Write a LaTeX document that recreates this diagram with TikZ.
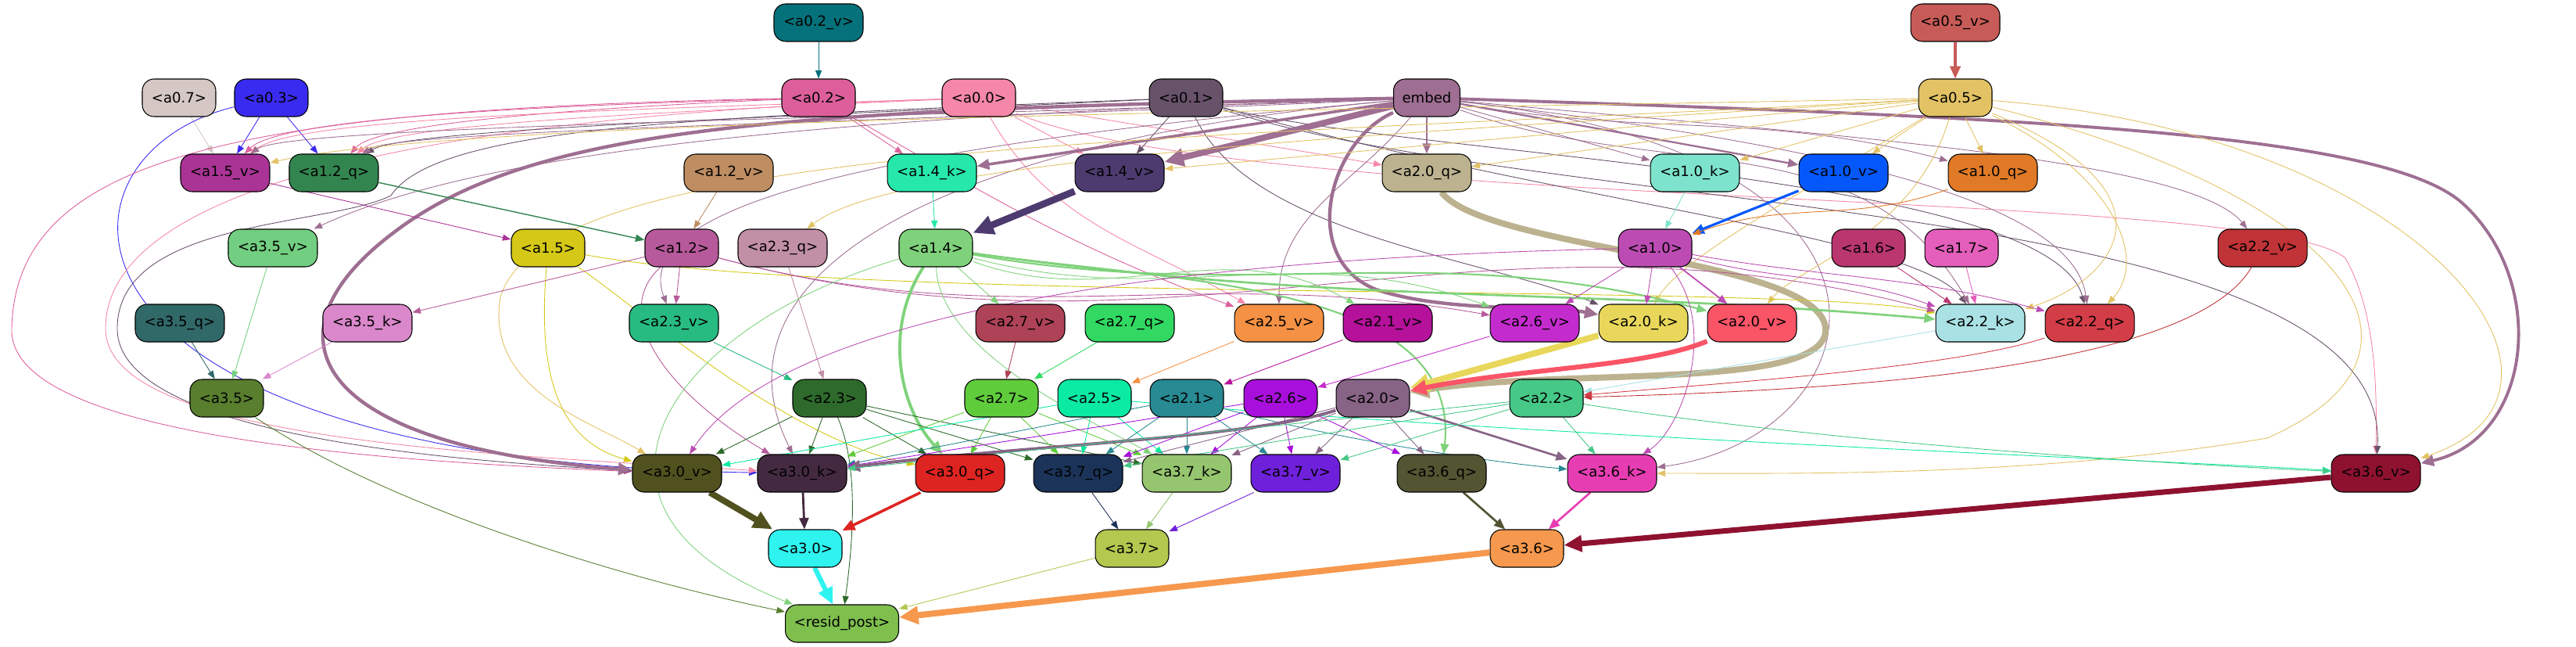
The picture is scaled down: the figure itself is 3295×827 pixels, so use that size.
\documentclass[tikz,border=0pt]{standalone}
\usepackage{fontspec}
\setmainfont{DejaVu Sans}
\usepackage{tikz}
\usetikzlibrary{arrows.meta,backgrounds}
\definecolor{c-a02v}{HTML}{05717A}
\definecolor{c-a05v}{HTML}{C75B57}
\definecolor{c-a07}{HTML}{D5C8C4}
\definecolor{c-a03}{HTML}{3A2BF0}
\definecolor{c-a02}{HTML}{DC5F9B}
\definecolor{c-a00}{HTML}{F587A8}
\definecolor{c-a01}{HTML}{67526A}
\definecolor{c-embed}{HTML}{9E6F92}
\definecolor{c-a05}{HTML}{E2C264}
\definecolor{c-a15v}{HTML}{AA3495}
\definecolor{c-a12q}{HTML}{33854F}
\definecolor{c-a12v}{HTML}{BE8D62}
\definecolor{c-a14k}{HTML}{26E8AA}
\definecolor{c-a14v}{HTML}{4D3B6F}
\definecolor{c-a20q}{HTML}{BCB28F}
\definecolor{c-a10k}{HTML}{7EE3CC}
\definecolor{c-a10v}{HTML}{0458FB}
\definecolor{c-a10q}{HTML}{E07A27}
\definecolor{c-a35v}{HTML}{72CE80}
\definecolor{c-a15}{HTML}{D5C817}
\definecolor{c-a12}{HTML}{B75A9B}
\definecolor{c-a23q}{HTML}{C18FA6}
\definecolor{c-a14}{HTML}{7FD27B}
\definecolor{c-a10}{HTML}{BC4CB3}
\definecolor{c-a16}{HTML}{B9366F}
\definecolor{c-a17}{HTML}{E45EBB}
\definecolor{c-a22v}{HTML}{C03337}
\definecolor{c-a35q}{HTML}{316868}
\definecolor{c-a35k}{HTML}{DA88CB}
\definecolor{c-a23v}{HTML}{27BB82}
\definecolor{c-a27v}{HTML}{AE4257}
\definecolor{c-a27q}{HTML}{31D962}
\definecolor{c-a25v}{HTML}{F59144}
\definecolor{c-a21v}{HTML}{B5119B}
\definecolor{c-a26v}{HTML}{C42BCD}
\definecolor{c-a20k}{HTML}{E8D75A}
\definecolor{c-a20v}{HTML}{FA5467}
\definecolor{c-a22k}{HTML}{A9E1E4}
\definecolor{c-a22q}{HTML}{D33D47}
\definecolor{c-a35}{HTML}{587E2E}
\definecolor{c-a23}{HTML}{2E6A2C}
\definecolor{c-a27}{HTML}{5FCC3C}
\definecolor{c-a25}{HTML}{0BEAA2}
\definecolor{c-a21}{HTML}{288A93}
\definecolor{c-a26}{HTML}{A80FDC}
\definecolor{c-a20}{HTML}{876486}
\definecolor{c-a22}{HTML}{46C887}
\definecolor{c-a30v}{HTML}{50511E}
\definecolor{c-a30k}{HTML}{442A40}
\definecolor{c-a30q}{HTML}{DE2421}
\definecolor{c-a37q}{HTML}{1B3358}
\definecolor{c-a37k}{HTML}{95C56E}
\definecolor{c-a37v}{HTML}{6F20DA}
\definecolor{c-a36q}{HTML}{525432}
\definecolor{c-a36k}{HTML}{E73DB3}
\definecolor{c-a36v}{HTML}{8F1130}
\definecolor{c-a30}{HTML}{2EF3EF}
\definecolor{c-a37}{HTML}{B4C74E}
\definecolor{c-a36}{HTML}{F6984D}
\definecolor{c-resid}{HTML}{7FBF4E}

\begin{document}
\begin{tikzpicture}[x=0.02cm, y=-0.02cm,
    box/.style={draw=black, line width=0.6pt, rounded corners=0.3cm, minimum height=0.96cm,
      minimum width=1.88cm, inner sep=1pt, font=\fontsize{10.3}{12}\selectfont},
    wbox/.style={box, minimum width=2.28cm},
    e/.style={-{Triangle[length=5pt 2, width=3.6pt 2]}, line width=0.5pt}]
    \useasboundingbox (0,0) rectangle (3295,827);
    \node[wbox, fill=c-a02v] (a02v) at (1047,29) {<a0.2\_v>};
    \node[wbox, fill=c-a05v] (a05v) at (2501,29) {<a0.5\_v>};
    \node[box, fill=c-a07] (a07) at (229,125) {<a0.7>};
    \node[box, fill=c-a03] (a03) at (347,125) {<a0.3>};
    \node[box, fill=c-a02] (a02) at (1047,125) {<a0.2>};
    \node[box, fill=c-a00] (a00) at (1252,125) {<a0.0>};
    \node[box, fill=c-a01] (a01) at (1517,125) {<a0.1>};
    \node[box, fill=c-embed, minimum width=1.7cm] (embed) at (1825,125) {embed};
    \node[box, fill=c-a05] (a05) at (2501,125) {<a0.5>};
    \node[wbox, fill=c-a15v] (a15v) at (288,221) {<a1.5\_v>};
    \node[wbox, fill=c-a12q] (a12q) at (427,221) {<a1.2\_q>};
    \node[wbox, fill=c-a12v] (a12v) at (932,221) {<a1.2\_v>};
    \node[wbox, fill=c-a14k] (a14k) at (1192,221) {<a1.4\_k>};
    \node[wbox, fill=c-a14v] (a14v) at (1432,221) {<a1.4\_v>};
    \node[wbox, fill=c-a20q] (a20q) at (1825,221) {<a2.0\_q>};
    \node[wbox, fill=c-a10k] (a10k) at (2168,221) {<a1.0\_k>};
    \node[wbox, fill=c-a10v] (a10v) at (2358,221) {<a1.0\_v>};
    \node[wbox, fill=c-a10q] (a10q) at (2549,221) {<a1.0\_q>};
    \node[wbox, fill=c-a35v] (a35v) at (349,317) {<a3.5\_v>};
    \node[box, fill=c-a15] (a15) at (701,317) {<a1.5>};
    \node[box, fill=c-a12] (a12) at (872,317) {<a1.2>};
    \node[wbox, fill=c-a23q] (a23q) at (1001,317) {<a2.3\_q>};
    \node[box, fill=c-a14] (a14) at (1197,317) {<a1.4>};
    \node[box, fill=c-a10] (a10) at (2117,317) {<a1.0>};
    \node[box, fill=c-a16] (a16) at (2390,317) {<a1.6>};
    \node[box, fill=c-a17] (a17) at (2509,317) {<a1.7>};
    \node[wbox, fill=c-a22v] (a22v) at (2894,317) {<a2.2\_v>};
    \node[wbox, fill=c-a35q] (a35q) at (230,413) {<a3.5\_q>};
    \node[wbox, fill=c-a35k] (a35k) at (470,413) {<a3.5\_k>};
    \node[wbox, fill=c-a23v] (a23v) at (862,413) {<a2.3\_v>};
    \node[wbox, fill=c-a27v] (a27v) at (1305,413) {<a2.7\_v>};
    \node[wbox, fill=c-a27q] (a27q) at (1445,413) {<a2.7\_q>};
    \node[wbox, fill=c-a25v] (a25v) at (1636,413) {<a2.5\_v>};
    \node[wbox, fill=c-a21v] (a21v) at (1775,413) {<a2.1\_v>};
    \node[wbox, fill=c-a26v] (a26v) at (1963,413) {<a2.6\_v>};
    \node[wbox, fill=c-a20k] (a20k) at (2102,413) {<a2.0\_k>};
    \node[wbox, fill=c-a20v] (a20v) at (2241,413) {<a2.0\_v>};
    \node[wbox, fill=c-a22k] (a22k) at (2533,413) {<a2.2\_k>};
    \node[wbox, fill=c-a22q] (a22q) at (2673,413) {<a2.2\_q>};
    \node[box, fill=c-a35] (a35) at (290,509) {<a3.5>};
    \node[box, fill=c-a23] (a23) at (1061,509) {<a2.3>};
    \node[box, fill=c-a27] (a27) at (1281,509) {<a2.7>};
    \node[box, fill=c-a25] (a25) at (1400,509) {<a2.5>};
    \node[box, fill=c-a21] (a21) at (1518,509) {<a2.1>};
    \node[box, fill=c-a26] (a26) at (1638,509) {<a2.6>};
    \node[box, fill=c-a20] (a20) at (1756,509) {<a2.0>};
    \node[box, fill=c-a22] (a22) at (1978,509) {<a2.2>};
    \node[wbox, fill=c-a30v] (a30v) at (866,605) {<a3.0\_v>};
    \node[wbox, fill=c-a30k] (a30k) at (1026,605) {<a3.0\_k>};
    \node[wbox, fill=c-a30q] (a30q) at (1228,605) {<a3.0\_q>};
    \node[wbox, fill=c-a37q] (a37q) at (1379,605) {<a3.7\_q>};
    \node[wbox, fill=c-a37k] (a37k) at (1518,605) {<a3.7\_k>};
    \node[wbox, fill=c-a37v] (a37v) at (1657,605) {<a3.7\_v>};
    \node[wbox, fill=c-a36q] (a36q) at (1844,605) {<a3.6\_q>};
    \node[wbox, fill=c-a36k] (a36k) at (2062,605) {<a3.6\_k>};
    \node[wbox, fill=c-a36v] (a36v) at (3039,605) {<a3.6\_v>};
    \node[box, fill=c-a30] (a30) at (1030,701) {<a3.0>};
    \node[box, fill=c-a37] (a37) at (1448,701) {<a3.7>};
    \node[box, fill=c-a36] (a36) at (1953,701) {<a3.6>};
    \node[box, fill=c-resid, minimum width=2.9cm] (resid) at (1077,797) {<resid\_post>};
    \begin{pgfonlayer}{background}
    \draw[e, c-a02v] (a02v) -- (a02);
    \draw[e, c-a05v, line width=2pt] (a05v) -- (a05);
    \draw[e, c-a07] (a07) -- (a15v);
    \draw[e, c-a03] (a03) -- (a15v); \draw[e, c-a03] (a03) -- (a12q);
    \draw[e, c-a03] (a03) .. controls (40,200) and (40,590) .. (a30k);
    \draw[e, c-a02] (a02) .. controls (700,135) and (360,150) .. (a15v);
    \draw[e, c-a02] (a02) .. controls (700,140) and (480,160) .. (a12q);
    \draw[e, c-a02] (a02) -- (a14k);
    \draw[e, c-a02] (a02) .. controls (300,140) and (20,200) .. (15,420) .. controls (10,560) and (500,590) .. (a30v);
    \draw[e, c-a02] (a02) to[out=-30,in=160] (a25v);
    \draw[e, c-a00] (a00) .. controls (800,140) and (380,150) .. (a15v);
    \draw[e, c-a00] (a00) .. controls (800,145) and (500,160) .. (a12q);
    \draw[e, c-a00] (a00) -- (a14v);
    \draw[e, c-a00] (a00) to[out=-10,in=170] (a20q);
    \draw[e, c-a00] (a00) to[out=-60,in=150] (a25v);
    \draw[e, c-a00] (a00) .. controls (500,150) and (135,250) .. (135,420) .. controls (135,560) and (600,580) .. (a30k);
    \draw[e, c-a00] (a00) .. controls (1600,270) and (2900,240) .. (3000,330) .. controls (3040,400) and (3040,500) .. (a36v);
    \draw[e, c-a01] (a01) -- (a14v);
    \draw[e, c-a01] (a01) .. controls (1000,150) and (520,165) .. (a12q);
    \draw[e, c-a01] (a01) .. controls (900,150) and (560,160) .. (500,250) .. controls (420,290) and (150,280) .. (150,420) .. controls (150,560) and (600,590) .. (a30v);
    \draw[e, c-a01] (a01) .. controls (1800,200) and (2620,220) .. (a22q);
    \draw[e, c-a01] (a01) .. controls (2000,260) and (2450,300) .. (a22k);
    \draw[e, c-a01] (a01) .. controls (2000,280) and (3060,250) .. (a36v);
    \draw[e, c-a01] (a01) .. controls (1600,300) and (1900,330) .. (a20k);
    \draw[e, c-embed, line width=2pt] (embed) -- (a14k);
    \draw[e, c-embed, line width=4.5pt] (embed) -- (a14v);
    \draw[e, c-embed, line width=1.2pt] (embed) -- (a20q);
    \draw[e, c-embed] (embed) -- (a10k);
    \draw[e, c-embed, line width=1.3pt] (embed) -- (a10v);
    \draw[e, c-embed] (embed) to[out=-10,in=165] (a10q);
    \draw[e, c-embed] (embed) .. controls (2300,170) and (2800,200) .. (a22v);
    \draw[e, c-embed, line width=2.2pt] (embed) .. controls (2600,150) and (3050,170) .. (3150,260) .. controls (3260,360) and (3240,560) .. (a36v);
    \draw[e, c-embed, line width=2.5pt] (embed) .. controls (1000,140) and (680,160) .. (500,300) .. controls (330,430) and (400,570) .. (a30v);
    \draw[e, c-embed, line width=2.5pt] (embed) .. controls (1700,180) and (1660,330) .. (1760,370) .. controls (1850,400) and (1980,390) .. (a20k);
    \draw[e, c-embed] (embed) .. controls (1200,150) and (370,160) .. (a15v);
    \draw[e, c-embed] (embed) .. controls (1200,155) and (510,165) .. (a12q);
    \draw[e, c-embed] (embed) .. controls (1000,150) and (600,200) .. (a35v);
    \draw[e, c-embed] (embed) .. controls (1200,180) and (800,250) .. (a23v);
    \draw[e, c-embed] (embed) to[out=230,in=90] (a25v);
    \draw[e, c-embed] (embed) to[out=-20,in=120] (a22k);
    \draw[e, c-embed] (embed) .. controls (2300,180) and (2650,250) .. (a22q);
    \draw[e, c-embed] (embed) .. controls (2500,200) and (2400,560) .. (a36k);
    \draw[e, c-embed] (embed) .. controls (1200,180) and (900,350) .. (a30k);
    \draw[e, c-a05] (a05) -- (a14v); \draw[e, c-a05] (a05) -- (a20q);
    \draw[e, c-a05] (a05) -- (a10k); \draw[e, c-a05] (a05) -- (a10v); \draw[e, c-a05] (a05) -- (a10q);
    \draw[e, c-a05] (a05) .. controls (1800,170) and (1150,200) .. (a23q);
    \draw[e, c-a05] (a05) .. controls (1800,140) and (600,150) .. (a15v);
    \draw[e, c-a05] (a05) .. controls (2300,250) and (2150,330) .. (a20k);
    \draw[e, c-a05] (a05) .. controls (2450,300) and (2300,340) .. (a20v);
    \draw[e, c-a05] (a05) .. controls (2800,250) and (2700,360) .. (a22k);
    \draw[e, c-a05] (a05) .. controls (2700,220) and (2750,330) .. (a22q);
    \draw[e, c-a05] (a05) .. controls (3100,170) and (3350,500) .. (a36v);
    \draw[e, c-a05] (a05) .. controls (3000,250) and (3150,450) .. (2900,560) .. controls (2600,610) and (2300,605) .. (a36k);
    \draw[e, c-a05] (a05) .. controls (1500,180) and (700,180) .. (640,380) .. controls (620,500) and (760,540) .. (a30v);
    \draw[e, c-a15v] (a15v) -- (a15);
    \draw[e, c-a12q, line width=0.8pt] (a12q) -- (a12);
    \draw[e, c-a12v] (a12v) -- (a12);
    \draw[e, c-a14k] (a14k) -- (a14);
    \draw[e, c-a14v, line width=5pt] (a14v) -- (a14);
    \draw[e, c-a20q, line width=4.5pt] (a20q) .. controls (1900,320) and (2330,330) .. (2335,420) .. controls (2340,500) and (2000,470) .. (a20);
    \draw[e, c-a10k] (a10k) -- (a10);
    \draw[e, c-a10v, line width=1.8pt] (a10v) -- (a10);
    \draw[e, c-a10q] (a10q) to[out=200,in=20] (a10);
    \draw[e, c-a15] (a15) .. controls (800,380) and (1000,560) .. (a30q);
    \draw[e, c-a15] (a15) .. controls (690,450) and (700,560) .. (a30v);
    \draw[e, c-a15] (a15) .. controls (1100,390) and (2300,360) .. (a22k);
    \draw[e, c-a12] (a12) -- (a35k); \draw[e, c-a12] (a12) -- (a23v);
    \draw[e, c-a12] (a12) .. controls (780,400) and (850,500) .. (a30k);
    \draw[e, c-a12] (a12) to[out=-15,in=170] (a26v);
    \draw[e, c-a12] (a12) to[out=-15,in=165] (a22k);
    \draw[e, c-a23q] (a23q) -- (a23);
    \draw[e, c-a14, line width=2.2pt] (a14) .. controls (1130,420) and (1150,520) .. (a30q);
    \draw[e, c-a14] (a14) -- (a27v);
    \draw[e, c-a14] (a14) to[out=-20,in=150] (a21v);
    \draw[e, c-a14] (a14) to[out=-15,in=160] (a26v);
    \draw[e, c-a14, line width=1.2pt] (a14) to[out=-10,in=165] (a20v);
    \draw[e, c-a14, line width=1.5pt] (a14) to[out=-8,in=175] (a22k);
    \draw[e, c-a14, line width=1.2pt] (a14) .. controls (1500,360) and (1870,360) .. (a36q);
    \draw[e, c-a14] (a14) .. controls (850,420) and (700,650) .. (resid);
    \draw[e, c-a14] (a14) .. controls (1200,450) and (1400,540) .. (a37k);
    \draw[e, c-a10] (a10) -- (a26v); \draw[e, c-a10] (a10) -- (a20k);
    \draw[e, c-a10, line width=1pt] (a10) -- (a20v);
    \draw[e, c-a10] (a10) to[out=-15,in=160] (a22k);
    \draw[e, c-a10] (a10) to[out=-10,in=165] (a22q);
    \draw[e, c-a10] (a10) .. controls (1500,330) and (1000,400) .. (a30v);
    \draw[e, c-a10] (a10) .. controls (2200,420) and (2150,550) .. (a36k);
    \draw[e, c-a16] (a16) -- (a22k); \draw[e, c-a17] (a17) -- (a22k);
    \draw[e, c-a22v] (a22v) .. controls (2800,480) and (2300,500) .. (a22);
    \draw[e, c-a35q] (a35q) -- (a35); \draw[e, c-a35v] (a35v) -- (a35); \draw[e, c-a35k] (a35k) -- (a35);
    \draw[e, c-a23v] (a23v) -- (a23);
    \draw[e, c-a27v] (a27v) -- (a27); \draw[e, c-a27q] (a27q) -- (a27);
    \draw[e, c-a25v] (a25v) -- (a25); \draw[e, c-a21v] (a21v) -- (a21); \draw[e, c-a26v] (a26v) -- (a26);
    \draw[e, c-a20k, line width=4.5pt] (a20k) -- (a20);
    \draw[e, c-a20v, line width=3.5pt] (a20v) .. controls (2100,470) and (1950,470) .. (a20);
    \draw[e, c-a22k] (a22k) -- (a22);
    \draw[e, c-a22q] (a22q) .. controls (2500,470) and (2200,490) .. (a22);
    \draw[e, c-a35] (a35) .. controls (500,650) and (800,740) .. (resid);
    \draw[e, c-a23] (a23) -- (a30v); \draw[e, c-a23] (a23) -- (a30k); \draw[e, c-a23] (a23) -- (a30q);
    \draw[e, c-a23] (a23) -- (a37q); \draw[e, c-a23] (a23) -- (a37k);
    \draw[e, c-a23] (a23) .. controls (1100,600) and (1090,700) .. (resid);
    \draw[e, c-a27] (a27) -- (a30k); \draw[e, c-a27] (a27) -- (a30q);
    \draw[e, c-a27] (a27) -- (a37q); \draw[e, c-a27] (a27) -- (a37k);
    \draw[e, c-a25] (a25) -- (a30v); \draw[e, c-a25] (a25) -- (a37q); \draw[e, c-a25] (a25) -- (a37k);
    \draw[e, c-a25] (a25) .. controls (2000,560) and (2800,590) .. (a36v);
    \draw[e, c-a21] (a21) -- (a37q); \draw[e, c-a21] (a21) -- (a37k); \draw[e, c-a21] (a21) -- (a37v);
    \draw[e, c-a21] (a21) .. controls (1700,560) and (1900,590) .. (a36k);
    \draw[e, c-a21] (a21) -- (a30k);
    \draw[e, c-a26] (a26) -- (a37q); \draw[e, c-a26] (a26) -- (a37k); \draw[e, c-a26] (a26) -- (a37v);
    \draw[e, c-a26] (a26) -- (a36q); \draw[e, c-a26] (a26) -- (a30k);
    \draw[e, c-a20, line width=2.2pt] (a20) .. controls (1600,560) and (1300,570) .. (a30k);
    \draw[e, c-a20] (a20) -- (a37v); \draw[e, c-a20] (a20) -- (a36q);
    \draw[e, c-a20, line width=1.5pt] (a20) -- (a36k);
    \draw[e, c-a20] (a20) -- (a37k); \draw[e, c-a20] (a20) -- (a37q);
    \draw[e, c-a22] (a22) -- (a36k); \draw[e, c-a22] (a22) -- (a37v); \draw[e, c-a22] (a22) -- (a37q);
    \draw[e, c-a22] (a22) .. controls (2300,560) and (2700,590) .. (a36v);
    \draw[e, c-a22] (a22) -- (a30k);
    \draw[e, c-a30v, line width=4.5pt] (a30v) -- (a30);
    \draw[e, c-a30k, line width=1.6pt] (a30k) -- (a30);
    \draw[e, c-a30q, line width=2pt] (a30q) -- (a30);
    \draw[e, c-a37q] (a37q) -- (a37); \draw[e, c-a37k] (a37k) -- (a37); \draw[e, c-a37v] (a37v) -- (a37);
    \draw[e, c-a36q, line width=1.5pt] (a36q) -- (a36);
    \draw[e, c-a36k, line width=1.5pt] (a36k) -- (a36);
    \draw[e, c-a36v, line width=4pt] (a36v) -- (a36);
    \draw[e, c-a30, line width=3.5pt] (a30) -- (resid);
    \draw[e, c-a37] (a37) -- (resid);
    \draw[e, c-a36, line width=4.5pt] (a36) -- (resid);
    \end{pgfonlayer}
\end{tikzpicture}
\end{document}
